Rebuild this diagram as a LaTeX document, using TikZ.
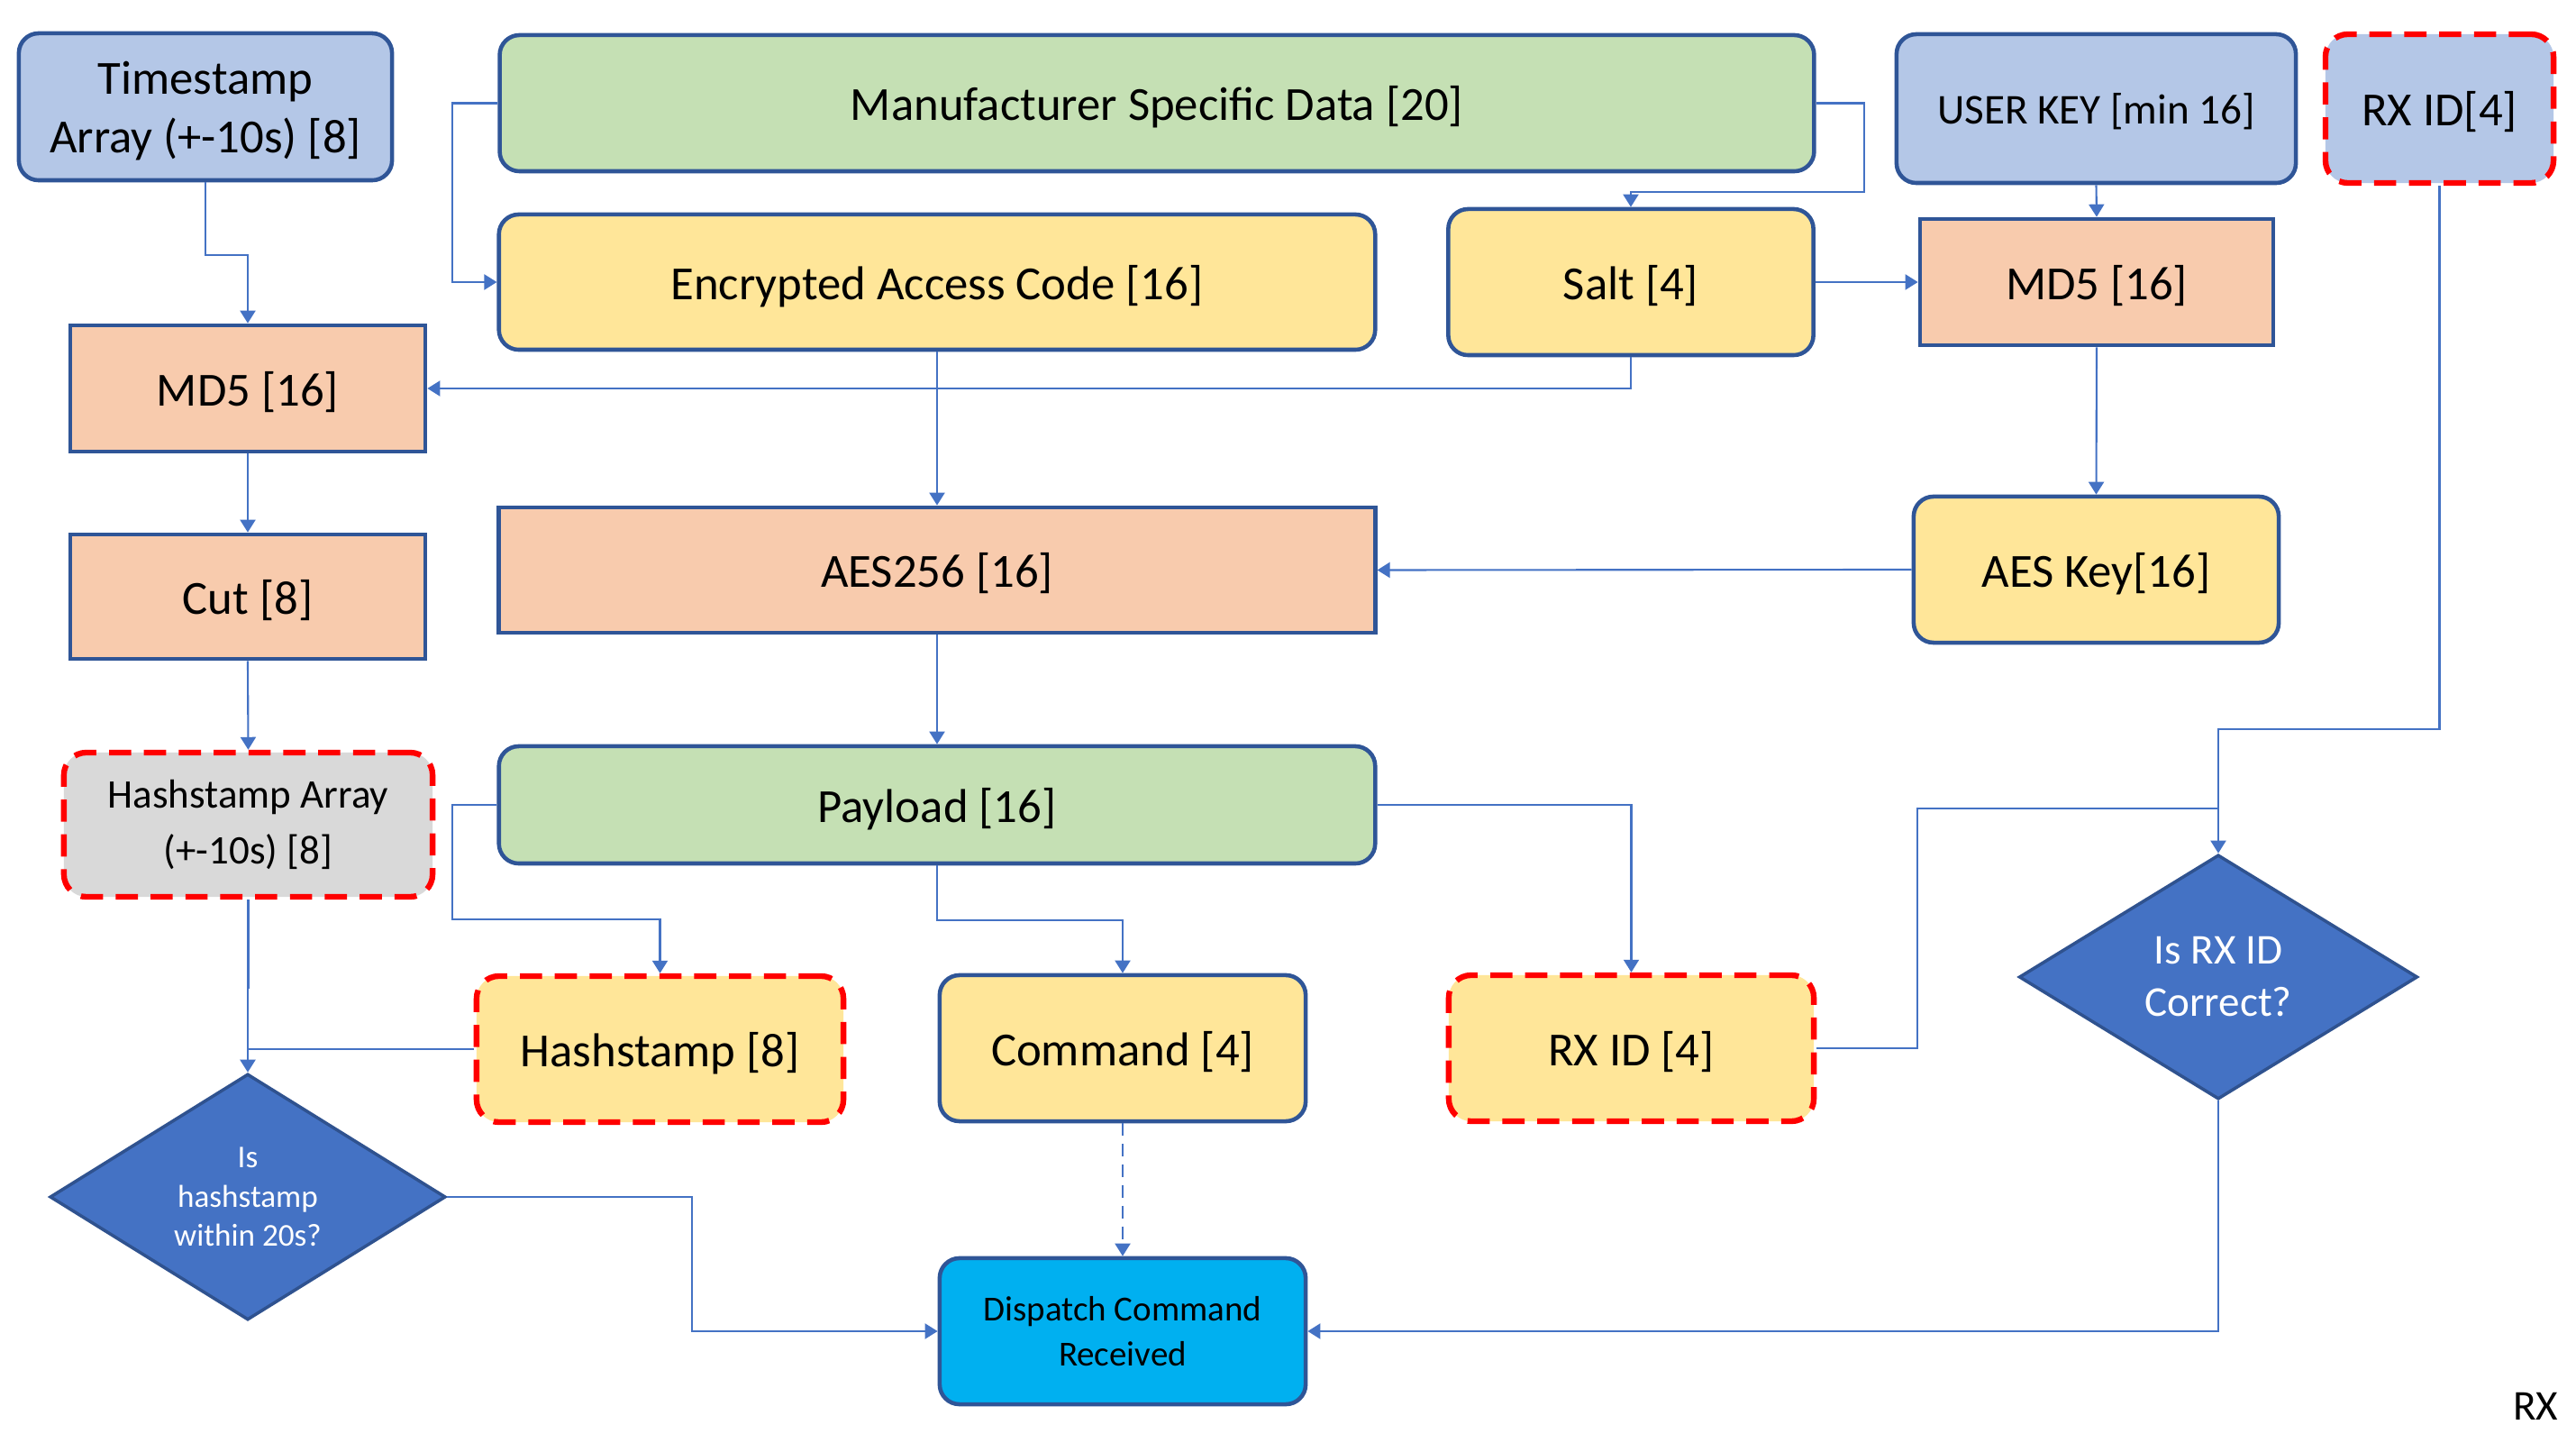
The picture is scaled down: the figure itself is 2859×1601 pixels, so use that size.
\documentclass[tikz,border=0pt]{standalone}
\usepackage{fontspec}
\setmainfont{Carlito}
\usetikzlibrary{arrows.meta,shapes.geometric}
\definecolor{lblue}{HTML}{B4C7E7}
\definecolor{lgreen}{HTML}{C5E0B4}
\definecolor{lyellow}{HTML}{FFE699}
\definecolor{lorange}{HTML}{F8CBAD}
\definecolor{lgrey}{HTML}{D9D9D9}
\definecolor{bordc}{HTML}{2F5597}
\definecolor{connc}{HTML}{4472C4}
\definecolor{diamb}{HTML}{2F528F}
\definecolor{dispc}{HTML}{00B0F0}
\newcommand{\fsBig}{\fontsize{15}{18.5}\selectfont}
\newcommand{\fsMid}{\fontsize{13.4}{16.5}\selectfont}
\newcommand{\fsHA}{\fontsize{12.8}{17.4}\selectfont}
\newcommand{\fsDisp}{\fontsize{11.1}{14.2}\selectfont}
\newcommand{\fsSmall}{\fontsize{10}{12.3}\selectfont}
\tikzset{
  rbox/.style={draw=bordc, line width=1.3pt, rounded corners=0.22cm, align=center, inner sep=0pt},
  sbox/.style={draw=bordc, line width=1.3pt, align=center, inner sep=0pt},
  redbox/.style={draw=red, line width=1.8pt, dash pattern=on 7pt off 4pt, rounded corners=0.25cm, align=center, inner sep=0pt},
  decide/.style={diamond, draw=diamb, line width=1pt, fill=connc, text=white, align=center, inner sep=0pt},
  low/.style={text depth=0pt},
  conn/.style={draw=connc, line width=0.6pt, -{Triangle[length=0.14cm,width=0.17cm]}},
  connline/.style={draw=connc, line width=0.6pt},
}
\begin{document}
\begin{tikzpicture}[x=0.01cm,y=-0.01cm]
\useasboundingbox (0,0) rectangle (2859,1601);
% top row
\node[rbox, low, fill=lblue, minimum width=4.14cm, minimum height=1.63cm, font=\fsBig] (ts) at (228,118.5) {Timestamp\\Array (+-10s) [8]};
\node[rbox, low, fill=lgreen, minimum width=14.58cm, minimum height=1.51cm, font=\fsBig] (msd) at (1284,114.5) {Manufacturer Specific Data [20]};
\node[rbox, low, fill=lblue, minimum width=4.43cm, minimum height=1.65cm, font=\fsMid] (uk) at (2326.5,120.5) {USER KEY [min 16]};
\node[redbox, low, fill=lblue, minimum width=2.53cm, minimum height=1.65cm, font=\fsBig] (rxt) at (2707.5,120.5) {RX ID[4]};
% second row
\node[rbox, low, fill=lyellow, minimum width=9.72cm, minimum height=1.50cm, font=\fsBig] (eac) at (1040,313) {Encrypted Access Code [16]};
\node[rbox, low, fill=lyellow, minimum width=4.05cm, minimum height=1.62cm, font=\fsBig] (salt) at (1810,313) {Salt [4]};
\node[sbox, low, fill=lorange, minimum width=3.92cm, minimum height=1.40cm, font=\fsBig] (md5r) at (2327,313) {MD5 [16]};
\node[sbox, low, fill=lorange, minimum width=3.94cm, minimum height=1.40cm, font=\fsBig] (md5l) at (275,431) {MD5 [16]};
% third row
\node[sbox, low, fill=lorange, minimum width=3.94cm, minimum height=1.38cm, font=\fsBig] (cut) at (275,662) {Cut [8]};
\node[sbox, low, fill=lorange, minimum width=9.72cm, minimum height=1.39cm, font=\fsBig] (aes) at (1040,632.5) {AES256 [16]};
\node[rbox, low, fill=lyellow, minimum width=4.05cm, minimum height=1.62cm, font=\fsBig] (aesk) at (2326.5,632) {AES Key[16]};
% fourth row
\node[redbox, fill=lgrey, minimum width=4.09cm, minimum height=1.60cm, font=\fsHA] (hsa) at (275.5,915) {Hashstamp Array\\(+-10s) [8]};
\node[rbox, low, fill=lgreen, minimum width=9.72cm, minimum height=1.30cm, font=\fsBig] (pay) at (1040,893) {Payload [16]};
\node[decide, minimum width=4.42cm, minimum height=2.71cm, font=\fontsize{13.4}{16.5}\selectfont] (d2) at (2462,1084) {Is RX ID\\Correct?};
% fifth row
\node[redbox, low, fill=lyellow, minimum width=4.07cm, minimum height=1.62cm, font=\fsBig] (hs) at (732.5,1164) {Hashstamp [8]};
\node[rbox, low, fill=lyellow, minimum width=4.06cm, minimum height=1.62cm, font=\fsBig] (cmd) at (1246,1163) {Command [4]};
\node[redbox, low, fill=lyellow, minimum width=4.05cm, minimum height=1.62cm, font=\fsBig] (rxid) at (1810.5,1163) {RX ID [4]};
\node[decide, minimum width=4.39cm, minimum height=2.69cm, font=\fsSmall] (d1) at (275,1328) {Is\\hashstamp\\within 20s?};
% bottom
\node[rbox, fill=dispc, minimum width=4.06cm, minimum height=1.62cm, font=\fsDisp] (dcr) at (1246,1477) {Dispatch Command\\Received};
\node[font=\fsMid, inner sep=0pt] (rxlabel) at (2814,1560) {RX};
% connectors
\draw[conn] (ts.south) -- (ts.south |- 0,283) -| (md5l.north);
\draw[conn] (msd.west) -- (msd.west -| 502,0) |- (eac.west);
\draw[conn] (msd.east) -- (msd.east -| 2069,0) |- (salt.north |- 0,213) -- (salt.north);
\draw[conn] (salt.south) |- (md5l.east);
\draw[conn] (salt.east) -- (md5r.west);
\draw[conn] (uk.south) -- (md5r.north);
\draw[conn] (md5r.south) -- (aesk.north);
\draw[conn] (aesk.west) -- (aes.east);
\draw[conn] (eac.south) -- (aes.north);
\draw[conn] (aes.south) -- (pay.north);
\draw[conn] (md5l.south) -- (cut.north);
\draw[conn] (cut.south) -- (hsa.north);
\draw[conn] (pay.west) -- (pay.west -| 502,0) |- (hs.north |- 0,1020) -- (hs.north);
\draw[conn] (hsa.south) -- (hsa.south |- 0,1096) -| (d1.north);
\draw[connline] (hs.west) -- (hs.west -| d1.north);
\draw[conn] (d1.east) -- (d1.east -| 768,0) |- (dcr.west);
\draw[conn] (pay.south) -- (pay.south |- 0,1021) -| (cmd.north);
\draw[conn] (pay.east) -| (rxid.north);
\draw[conn, dash pattern=on 4pt off 2.5pt] (cmd.south) -- (dcr.north);
\draw[connline] (rxid.east) -- (rxid.east -| 2128,0) |- (d2.north |- 0,897);
\draw[conn] (rxt.south) |- (d2.north |- 0,809) -- (d2.north);
\draw[conn] (d2.south) |- (dcr.east);
\end{tikzpicture}
\end{document}
